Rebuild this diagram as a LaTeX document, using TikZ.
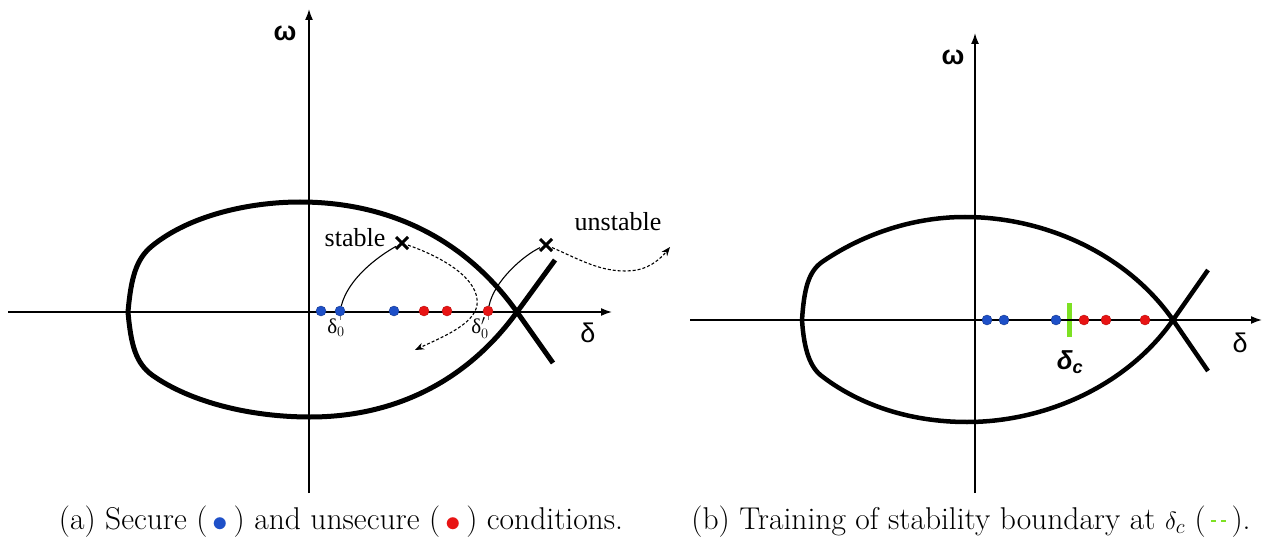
\documentclass[tikz,border=0pt]{standalone}
\usepackage{fontspec}
\newfontfamily\serifx{Liberation Serif}
\newfontfamily\sansx{Liberation Sans}
\usetikzlibrary{arrows.meta,shapes.misc}
\definecolor{secblue}{RGB}{30,80,200}
\definecolor{unsred}{RGB}{232,20,20}
\definecolor{bndgreen}{RGB}{125,225,35}
\tikzset{
  axis/.style={line width=1.6pt,-{Latex[length=11pt,width=8pt]}},
  fish/.style={line width=5pt,line join=round},
  secure/.style={circle,fill=secblue,draw=secblue!70!black,inner sep=0pt,minimum size=10pt},
  unsecure/.style={circle,fill=unsred,draw=unsred!80!black,inner sep=0pt,minimum size=10pt},
  crossmark/.style={cross out,draw,line width=3pt,inner sep=0pt,minimum size=9pt},
  traj/.style={line width=1.1pt},
  escape/.style={line width=1.1pt,dash pattern=on 3pt off 2pt,-{Stealth[length=9pt,width=7pt]}},
  axlabel/.style={font=\sansx\fontsize{27}{30}\selectfont},
  txtlabel/.style={font=\serifx\fontsize{26}{28}\selectfont},
  deltalabel/.style={font=\serifx\fontsize{21}{23}\selectfont},
  caption/.style={font=\fontsize{31.5}{36}\selectfont}
}
\begin{document}
\begin{tikzpicture}[x=1pt,y=-1pt]
  \useasboundingbox (0,0) rectangle (1265,545);
  % (a) left panel: axes
  \coordinate (axLw) at (8,312);
  \coordinate (axLe) at (612,312);
  \coordinate (axLs) at (309,493);
  \coordinate (axLn) at (309,9);
  \draw[axis] (axLw) -- (axLe);
  \draw[axis] (axLs) -- (axLn);
  \node[axlabel] (omegaL) at (285,33) {\textbf{ω}};
  \node[axlabel] (deltaL) at (588,333) {δ};
  % stability boundary
  \draw[fish] (553,363) -- (517,312) .. controls (463,236) and (385,202) .. (300,202)
    .. controls (250,202) and (190,215) .. (152,246)
    .. controls (136,259) and (131,278) .. (128,312)
    .. controls (131,346) and (136,363) .. (152,375)
    .. controls (190,402) and (250,417) .. (310,417)
    .. controls (390,417) and (464,385) .. (517,312) -- (555,260);
  % operating points
  \draw[gray,line width=0.6pt] (340,312) -- (340,320);
  \draw[gray,line width=0.6pt] (488,312) -- (488,320);
  \node[secure] (a1) at (321,311) {};
  \node[secure] (a2) at (340,311) {};
  \node[secure] (a3) at (394,311) {};
  \node[unsecure] (a4) at (424,311) {};
  \node[unsecure] (a5) at (447,311) {};
  \node[unsecure] (a6) at (488,311) {};
  \node[deltalabel] (d0) at (336,328) {δ$_0$};
  \node[deltalabel] (d0p) at (480,328) {δ$_0'$};
  % trajectories
  \node[crossmark] (xs) at (402,243) {};
  \node[crossmark] (xu) at (546,245) {};
  \coordinate (sback) at (415,350);
  \coordinate (uaway) at (670,247);
  \draw[traj] (a2) .. controls +(8,-32) and +(-25,14) .. (xs);
  \draw[traj] (a6) .. controls +(6,-30) and +(-22,10) .. (xu);
  \draw[escape] (xs) .. controls +(48,17) and (480,282) .. (477,305)
    .. controls (474,325) and (440,338) .. (sback);
  \draw[escape] (xu) .. controls +(35,15) and (605,275) .. (637,270)
    .. controls (652,267) and (662,257) .. (uaway);
  \node[txtlabel] (stab) at (355,238) {stable};
  \node[txtlabel] (unstab) at (618,222) {unstable};
  % (b) right panel: boundary mark, axes
  \draw[bndgreen,line width=5pt] (1069,303) -- (1069,337);
  \coordinate (axRw) at (690,320);
  \coordinate (axRe) at (1262,320);
  \coordinate (axRs) at (975,493);
  \coordinate (axRn) at (975,33);
  \draw[axis] (axRw) -- (axRe);
  \draw[axis] (axRs) -- (axRn);
  \node[axlabel] (omegaR) at (953,57) {\textbf{ω}};
  \node[axlabel] (deltaR) at (1240,343) {δ};
  \draw[fish,line width=4.5pt] (1208,371) -- (1173,320) .. controls (1127,254) and (1045,217) .. (965,217)
    .. controls (910,217) and (860,236) .. (822,262)
    .. controls (808,272) and (804,290) .. (802,320)
    .. controls (804,350) and (810,368) .. (823,377)
    .. controls (860,405) and (910,422) .. (967,422)
    .. controls (1045,422) and (1127,386) .. (1173,320) -- (1208,270);
  \node[secure] (b1) at (987,320) {};
  \node[secure] (b2) at (1004,320) {};
  \node[secure] (b3) at (1056,320) {};
  \node[unsecure] (b4) at (1084,320) {};
  \node[unsecure] (b5) at (1106,320) {};
  \node[unsecure] (b6) at (1145,320) {};
  \node[font=\sansx\bfseries\itshape\fontsize{26}{28}\selectfont] (dc) at (1070,362) {δ\textsubscript{c}};
  % captions
  \node[caption] (capA) at (341,522) {(a) Secure (\,\textcolor{secblue}{\raisebox{-0.05em}{\scalebox{1.25}{$\bullet$}}}\,) and unsecure (\,\textcolor{unsred}{\raisebox{-0.05em}{\scalebox{1.25}{$\bullet$}}}\,) conditions.};
  \node[caption] (capB) at (971,522) {(b) Training of stability boundary at $\delta_c$ (\,\textcolor{bndgreen}{\rule[0.24em]{0.16em}{0.07em}\,\rule[0.24em]{0.16em}{0.07em}}\,).};
\end{tikzpicture}
\end{document}
